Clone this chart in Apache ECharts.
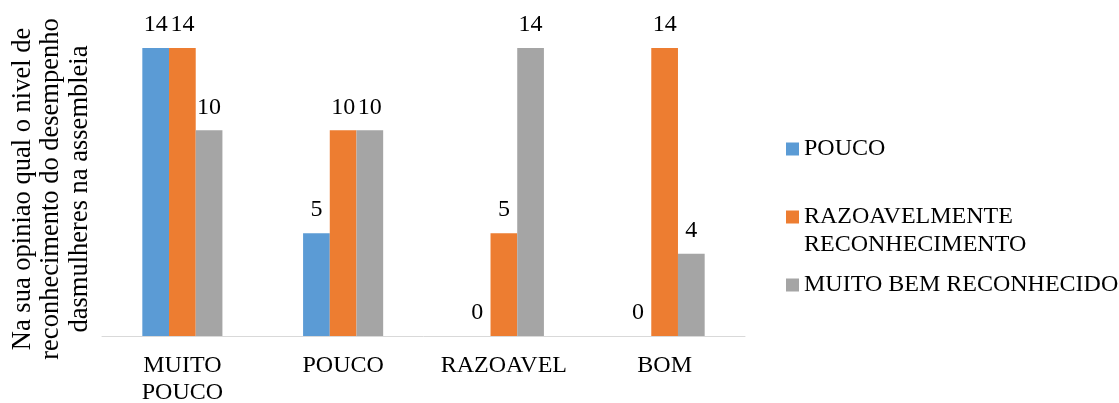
<!DOCTYPE html>
<html>
<head>
<meta charset="utf-8">
<script src="https://cdn.jsdelivr.net/npm/echarts@6/dist/echarts.min.js"></script>
<style>
  html, body { margin: 0; padding: 0; background: #fff; }
  #chart { width: 1119px; height: 403px; }
</style>
</head>
<body>
<div id="chart"></div>
<script>
// Categories on the x axis
const categories = ['MUITO\nPOUCO', 'POUCO', 'RAZOAVEL', 'BOM'];

// Series names and values
const seriesNames = ['POUCO', 'RAZOAVELMENTE\nRECONHECIMENTO', 'MUITO BEM RECONHECIDO'];
const pouco = [14, 5, 0, 0];
const razoavelmente = [14, 10, 5, 14];
const muitoBem = [10, 10, 14, 4];

const yTitle = 'Na sua opiniao qual o nivel de\nreconhecimento do desempenho\ndasmulheres na assembleia';

const colors = ['#5b9bd5', '#ed7d31', '#a5a5a5'];
const font = "'Liberation Serif', 'Times New Roman', serif";

const chart = echarts.init(document.getElementById('chart'), null, { renderer: 'canvas' });

function bar(name, data, color) {
  return {
    name: name,
    type: 'bar',
    data: data,
    barWidth: 26.7,
    barGap: '0%',
    itemStyle: { color: color },
    label: {
      show: true,
      position: 'top',
      distance: 11,
      color: '#000',
      fontFamily: font,
      fontSize: 24
    }
  };
}

// One legend block per series so each entry can sit at its own height
function legendFor(i, top, formatter) {
  return {
    data: [seriesNames[i]],
    orient: 'vertical',
    left: 786,
    top: top,
    padding: 0,
    itemWidth: 13,
    itemHeight: 13,
    icon: 'rect',
    selectedMode: false,
    formatter: formatter,
    textStyle: { color: '#000', fontFamily: font, fontSize: 24, lineHeight: 28 }
  };
}

chart.setOption({
  animation: false,
  backgroundColor: '#fff',
  color: colors,
  textStyle: { fontFamily: font },
  grid: { left: 102, top: 48, width: 643, height: 288, outerBoundsMode: 'none', containLabel: false },
  legend: [
    legendFor(0, 135),
    // leading blank line keeps the marker level with the first text line
    legendFor(1, 175, function (name) { return '\n' + name; }),
    legendFor(2, 271)
  ],
  xAxis: {
    type: 'category',
    data: categories,
    axisLine: { lineStyle: { color: '#d9d9d9', width: 1 } },
    axisTick: { show: false },
    axisLabel: {
      interval: 0,
      color: '#000',
      fontFamily: font,
      fontSize: 24,
      lineHeight: 27,
      margin: 16
    }
  },
  yAxis: {
    type: 'value',
    min: 0,
    max: 14,
    axisLine: { show: false },
    axisTick: { show: false },
    axisLabel: { show: false },
    splitLine: { show: false },
    name: yTitle,
    nameLocation: 'middle',
    nameGap: 8,
    nameTextStyle: {
      color: '#000',
      fontFamily: font,
      fontSize: 26.5,
      lineHeight: 28.5,
      padding: [0, 0, 0, 6]
    }
  },
  series: [
    bar(seriesNames[0], pouco, colors[0]),
    bar(seriesNames[1], razoavelmente, colors[1]),
    bar(seriesNames[2], muitoBem, colors[2])
  ]
});
</script>
</body>
</html>
